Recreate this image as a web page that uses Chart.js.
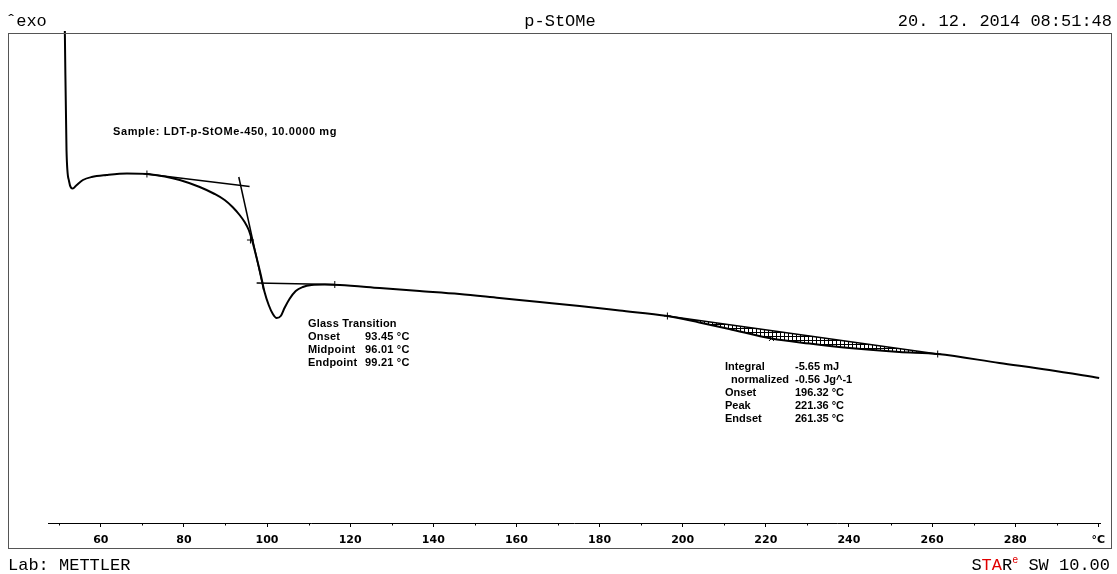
<!DOCTYPE html>
<html>
<head>
<meta charset="utf-8">
<title>p-StOMe DSC</title>
<script src="https://cdn.jsdelivr.net/npm/chart.js@4/dist/chart.umd.min.js"></script>
<style>
  html, body { margin: 0; padding: 0; background: #fff; }
  canvas { display: block; }
</style>
</head>
<body>
<canvas id="dsc" width="1117" height="574"></canvas>
<script>
// Measured DSC curve: temperature (°C) and heat flow (arbitrary units, exo up)
const tempC = [51.35, 51.75, 52.35, 53.3, 54.2, 55.7, 57.8, 61.4, 66.3, 71.1, 75.4, 79.0, 83.8, 87.4, 89.8,
  91.7, 93.4, 94.6, 95.6, 96.5, 97.5, 98.5, 99.4, 100.4, 101.4, 102.3, 103.3, 104.2, 105.4, 106.9, 108.6,
  110.7, 113.9, 117.5, 127.1, 136.7, 146.3, 155.9, 165.6, 175.2, 184.8, 196.32, 204.0, 211.2, 221.36,
  230.5, 240.1, 252.1, 261.35, 276.2, 288.2, 300.2];
const heatFlow = [49.2, 37.3, 34.2, 33.45, 33.8, 34.3, 34.6, 34.8, 34.95, 34.9, 34.65, 34.3, 33.6, 32.9, 32.3,
  31.6, 30.8, 30.1, 29.3, 28.1, 26.5, 24.8, 23.1, 21.8, 20.9, 20.5, 20.7, 21.5, 22.4, 23.2, 23.6,
  23.8, 23.85, 23.8, 23.5, 23.2, 22.9, 22.5, 22.1, 21.7, 21.25, 20.7, 20.05, 19.4, 18.45,
  17.95, 17.5, 17.1, 16.9, 16.0, 15.3, 14.5];

// Glass transition construction lines (start / end points)
const tgBaselineBefore = [[71.1, 34.9], [95.8, 33.65]];
const tgInflection = [[93.2, 34.6], [99.2, 23.3]];
const tgBaselineAfter = [[97.5, 24.0], [116.3, 23.85]];

// Peak integration limits and baseline
const peakOnset = 196.32, peakEndset = 261.35;
const peakBaseline = [[196.32, 20.7], [261.35, 16.9]];

// Evaluation markers on the curve
const markerT = [71.1, 96.01, 116.3, 196.32, 221.36, 261.35];
const markerHF = [34.9, 28.3, 23.85, 20.7, 18.45, 16.9];
const markerStyle = ['cross', 'cross', 'cross', 'cross', 'crossRot', 'cross'];

// Axis ticks
const tickTemps = [60, 80, 100, 120, 140, 160, 180, 200, 220, 240, 260, 280, 300];
const tickText = ['60', '80', '100', '120', '140', '160', '180', '200', '220', '240', '260', '280', '°C'];
const minorTemps = [50, 70, 90, 110, 130, 150, 170, 190, 210, 230, 250, 270, 290];

// Text blocks
const sampleLine = 'Sample: LDT-p-StOMe-450, 10.0000 mg';
const tgLabels = ['Glass Transition', 'Onset', 'Midpoint', 'Endpoint'];
const tgValues = ['', '93.45 °C', '96.01 °C', '99.21 °C'];
const peakLabels = ['Integral', 'normalized', 'Onset', 'Peak', 'Endset'];
const peakIndent = [0, 6, 0, 0, 0];
const peakValues = ['-5.65 mJ', '-0.56 Jg^-1', '196.32 °C', '221.36 °C', '261.35 °C'];

const pts = (xs, ys) => xs.map((x, i) => ({ x, y: ys[i] }));
const seg = arr => arr.map(([x, y]) => ({ x, y }));
const curve = pts(tempC, heatFlow);
const peakPart = curve.filter(p => p.x >= peakOnset && p.x <= peakEndset);

// small box hatch for the integrated peak area
function hatchPattern() {
  const c = document.createElement('canvas');
  c.width = 4; c.height = 4;
  const g = c.getContext('2d');
  g.fillStyle = '#000';
  g.fillRect(0, 0, 4, 1);
  g.fillRect(0, 0, 1, 4);
  return g.createPattern(c, 'repeat');
}

const lineDefaults = { borderColor: '#000', pointRadius: 0, fill: false, tension: 0 };

const decorations = {
  id: 'decorations',
  afterDraw(chart) {
    const ctx = chart.ctx;
    const xs = chart.scales.x;
    const area = chart.chartArea;
    ctx.save();
    // frame
    ctx.strokeStyle = '#555';
    ctx.lineWidth = 1;
    ctx.strokeRect(8.5, area.top + 0.5, 1103, 548 - area.top);
    // minor ticks
    ctx.strokeStyle = '#000';
    ctx.beginPath();
    minorTemps.forEach(t => {
      const px = Math.round(xs.getPixelForValue(t)) + 0.5;
      ctx.moveTo(px, area.bottom);
      ctx.lineTo(px, area.bottom + 2.5);
    });
    ctx.stroke();

    // header / footer
    ctx.fillStyle = '#000';
    ctx.font = '17px "Liberation Mono", monospace';
    ctx.textBaseline = 'alphabetic';
    ctx.textAlign = 'left';
    ctx.fillText('ˆexo', 6, 26);
    ctx.textAlign = 'center';
    ctx.fillText('p-StOMe', 560, 26);
    ctx.textAlign = 'right';
    ctx.fillText('20. 12. 2014 08:51:48', 1112, 26);
    ctx.textAlign = 'left';
    ctx.fillText('Lab: METTLER', 8, 570);

    // STARe SW 10.00 (right aligned)
    const parts = [['S', '#000', 17, 0], ['TA', '#e00000', 17, 0], ['R', '#000', 17, 0],
                   ['e', '#e00000', 10, -7], [' SW 10.00', '#000', 17, 0]];
    let total = 0;
    parts.forEach(p => { ctx.font = p[2] + 'px "Liberation Mono", monospace'; total += ctx.measureText(p[0]).width; });
    let cx = 1110 - total;
    parts.forEach(p => {
      ctx.font = p[2] + 'px "Liberation Mono", monospace';
      ctx.fillStyle = p[1];
      ctx.fillText(p[0], cx, 570 + p[3]);
      cx += ctx.measureText(p[0]).width;
    });

    // annotations
    ctx.fillStyle = '#000';
    ctx.font = 'bold 11px "Liberation Sans", Arial, sans-serif';
    ctx.letterSpacing = '0.6px';
    ctx.fillText(sampleLine, 113, 135);
    ctx.letterSpacing = '0.2px';
    tgLabels.forEach((s, i) => {
      ctx.fillText(s, 308, 327 + i * 13);
      if (tgValues[i]) ctx.fillText(tgValues[i], 365, 327 + i * 13);
    });
    ctx.letterSpacing = '0px';
    peakLabels.forEach((s, i) => {
      ctx.fillText(s, 725 + peakIndent[i], 370 + i * 13);
      ctx.fillText(peakValues[i], 795, 370 + i * 13);
    });
    ctx.restore();
  }
};

new Chart(document.getElementById('dsc'), {
  type: 'line',
  data: {
    datasets: [
      { ...lineDefaults, data: curve, borderWidth: 2, cubicInterpolationMode: 'monotone', clip: false, order: 1 },
      { ...lineDefaults, data: seg(tgBaselineBefore), borderWidth: 1.5 },
      { ...lineDefaults, data: seg(tgInflection), borderWidth: 1.5 },
      { ...lineDefaults, data: seg(tgBaselineAfter), borderWidth: 1.5 },
      { ...lineDefaults, data: seg(peakBaseline), borderWidth: 1.5 },
      { ...lineDefaults, data: peakPart, borderWidth: 0, cubicInterpolationMode: 'monotone',
        fill: { target: 4 }, backgroundColor: hatchPattern() },
      { type: 'scatter', data: pts(markerT, markerHF), pointStyle: markerStyle, pointRadius: 3.5,
        borderColor: '#000', borderWidth: 1, backgroundColor: '#000' }
    ]
  },
  options: {
    responsive: false,
    animation: false,
    events: [],
    layout: { padding: { left: 48, right: 17, top: 33, bottom: 0 } },
    plugins: { legend: { display: false }, tooltip: { enabled: false } },
    scales: {
      x: {
        type: 'linear', position: 'bottom', min: 47.3, max: 300.4,
        afterBuildTicks: s => { s.ticks = tickTemps.map(v => ({ value: v })); },
        afterFit: s => { s.height = 51; },
        ticks: {
          autoSkip: false, maxRotation: 0, padding: 7, color: '#000',
          font: { family: '"DejaVu Sans", sans-serif', weight: 'bold', size: 11 },
          callback: v => tickText[tickTemps.indexOf(v)]
        },
        grid: { drawOnChartArea: false, drawTicks: true, tickLength: 4, color: '#000', lineWidth: 1 },
        border: { display: true, color: '#000', width: 1 }
      },
      y: { type: 'linear', min: 0, max: 49, display: false }
    }
  },
  plugins: [decorations]
});
</script>
</body>
</html>
